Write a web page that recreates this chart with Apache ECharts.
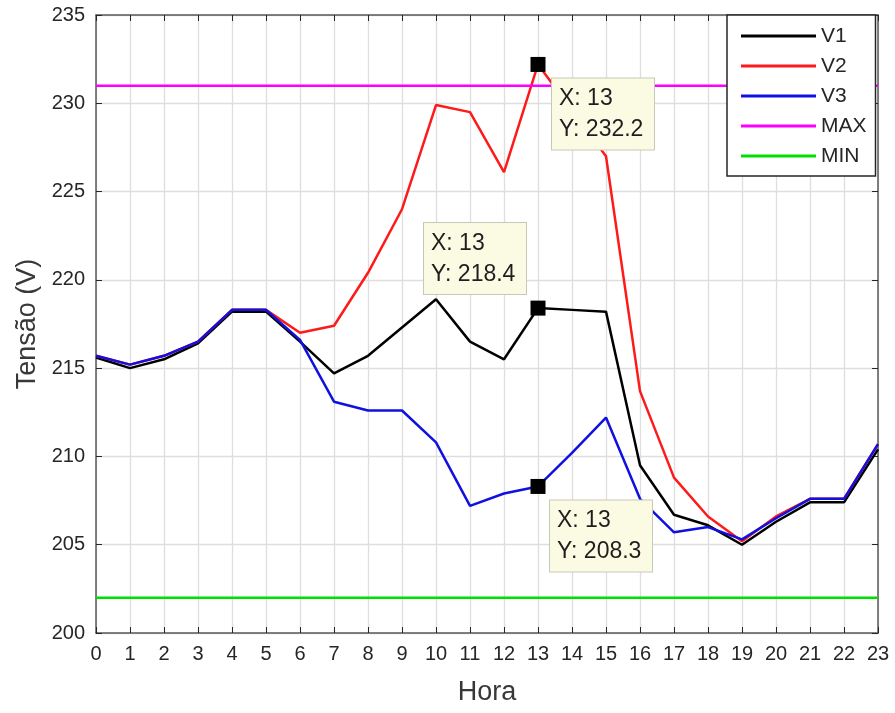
<!DOCTYPE html>
<html>
<head>
<meta charset="utf-8">
<title>Tensão por hora</title>
<script src="https://cdn.jsdelivr.net/npm/echarts@6/dist/echarts.min.js"></script>
<style>
  html, body { margin: 0; padding: 0; background: #ffffff; }
  #chart { width: 895px; height: 713px; }
</style>
</head>
<body>
<div id="chart"></div>
<script>
// Hourly phase voltages (V) with upper / lower limits
const hours = [0, 1, 2, 3, 4, 5, 6, 7, 8, 9, 10, 11, 12, 13, 14, 15, 16, 17, 18, 19, 20, 21, 22, 23];
const v1 = [215.6, 215.0, 215.5, 216.4, 218.2, 218.2, 216.5, 214.7, 215.7, 217.3, 218.9, 216.5, 215.5, 218.4, 218.3, 218.2, 209.5, 206.7, 206.1, 205.0, 206.3, 207.4, 207.4, 210.4];
const v2 = [215.7, 215.2, 215.7, 216.5, 218.3, 218.3, 217.0, 217.4, 220.4, 224.0, 229.9, 229.5, 226.1, 232.2, 229.6, 227.0, 213.7, 208.8, 206.6, 205.2, 206.6, 207.6, 207.6, 210.7];
const v3 = [215.7, 215.2, 215.7, 216.5, 218.3, 218.3, 216.6, 213.1, 212.6, 212.6, 210.8, 207.2, 207.9, 208.3, 210.2, 212.2, 207.6, 205.7, 206.0, 205.3, 206.5, 207.6, 207.6, 210.7];
const vMax = 231;
const vMin = 202;
const tipHour = 13;

const yTicks = { min: 200, max: 235, step: 5 };
const xTicks = { min: 0, max: 23, step: 1 };

const FONT = "'Liberation Sans', Arial, Helvetica, sans-serif";
const TXT = '#262626';
const AXIS = '#5a5a5a';

const pairs = (vals) => hours.map((h, i) => [h, vals[i]]);
const flat = (v) => [[hours[0], v], [hours[hours.length - 1], v]];

function lineSeries(name, data, color) {
  return {
    name, type: 'line', data, symbol: 'none', silent: true,
    lineStyle: { color, width: 2.5 }, itemStyle: { color },
    animation: false
  };
}

// Data tip: black square marker on the point with an "X / Y" box beside it
function tipSeries(vals, labelPos) {
  const idx = hours.indexOf(tipHour);
  return {
    type: 'scatter', data: [[tipHour, vals[idx]]], symbol: 'rect', symbolSize: 15,
    itemStyle: { color: '#000000', opacity: 1 }, z: 10, silent: true, animation: false,
    label: {
      show: true, position: labelPos, align: 'left', verticalAlign: 'top',
      formatter: (p) => 'X: ' + p.value[0] + '\nY: ' + p.value[1].toFixed(1),
      fontFamily: FONT, fontSize: 23, lineHeight: 31, color: '#1e1e1e',
      width: 86, height: 62,
      backgroundColor: '#fbfbe4', borderColor: '#c8c8b8', borderWidth: 1,
      padding: [5, 9, 4, 7]
    }
  };
}

const chart = echarts.init(document.getElementById('chart'), null, { renderer: 'canvas' });

chart.setOption({
  backgroundColor: '#ffffff',
  animation: false,
  grid: { left: 96, right: 17, top: 15, bottom: 80, containLabel: false },
  legend: {
    data: ['V1', 'V2', 'V3', 'MAX', 'MIN'],
    orient: 'vertical', left: 727, top: 15,
    backgroundColor: '#ffffff', borderColor: '#262626', borderWidth: 1.5,
    padding: [10, 9, 9, 14], itemGap: 8,
    itemWidth: 75, itemHeight: 3, icon: 'rect', itemTextGap: 5,
    textStyle: { fontFamily: FONT, fontSize: 21, color: TXT, lineHeight: 22 },
    selectedMode: false
  },
  xAxis: [{
    type: 'value', min: xTicks.min, max: xTicks.max, interval: xTicks.step,
    name: 'Hora', nameLocation: 'middle', nameGap: 46,
    nameTextStyle: { fontFamily: FONT, fontSize: 27, color: '#383838' },
    axisLine: { show: true, onZero: false, lineStyle: { color: AXIS, width: 1.5 } },
    axisTick: { show: true, inside: true, length: 6, lineStyle: { color: TXT, width: 1 } },
    axisLabel: { fontFamily: FONT, fontSize: 20, color: TXT, margin: 11 },
    splitLine: { show: true, lineStyle: { color: '#dedede', width: 1.3 } }
  }, {
    type: 'value', position: 'top', min: xTicks.min, max: xTicks.max, interval: xTicks.step,
    axisLine: { show: true, onZero: false, lineStyle: { color: AXIS, width: 1.5 } },
    axisTick: { show: true, inside: true, length: 6, lineStyle: { color: TXT, width: 1 } },
    axisLabel: { show: false }, splitLine: { show: false }
  }],
  yAxis: [{
    type: 'value', min: yTicks.min, max: yTicks.max, interval: yTicks.step,
    name: 'Tensão (V)', nameLocation: 'middle', nameGap: 55,
    nameTextStyle: { fontFamily: FONT, fontSize: 27, color: '#383838' },
    axisLine: { show: true, onZero: false, lineStyle: { color: AXIS, width: 1.5 } },
    axisTick: { show: true, inside: true, length: 6, lineStyle: { color: TXT, width: 1 } },
    axisLabel: { fontFamily: FONT, fontSize: 20, color: TXT, margin: 11 },
    splitLine: { show: true, lineStyle: { color: '#dedede', width: 1.3 } }
  }, {
    type: 'value', position: 'right', min: yTicks.min, max: yTicks.max, interval: yTicks.step,
    axisLine: { show: true, onZero: false, lineStyle: { color: AXIS, width: 1.5 } },
    axisTick: { show: true, inside: true, length: 6, lineStyle: { color: TXT, width: 1 } },
    axisLabel: { show: false }, splitLine: { show: false }
  }],
  series: [
    lineSeries('V1', pairs(v1), '#000000'),
    lineSeries('V2', pairs(v2), '#ff1a1a'),
    lineSeries('V3', pairs(v3), '#1010e0'),
    lineSeries('MAX', flat(vMax), '#ff00ff'),
    lineSeries('MIN', flat(vMin), '#00e000'),
    tipSeries(v2, [21.5, 21.5]),
    tipSeries(v1, [-106.5, -77.5]),
    tipSeries(v3, [19.5, 21.5])
  ]
});
</script>
</body>
</html>
